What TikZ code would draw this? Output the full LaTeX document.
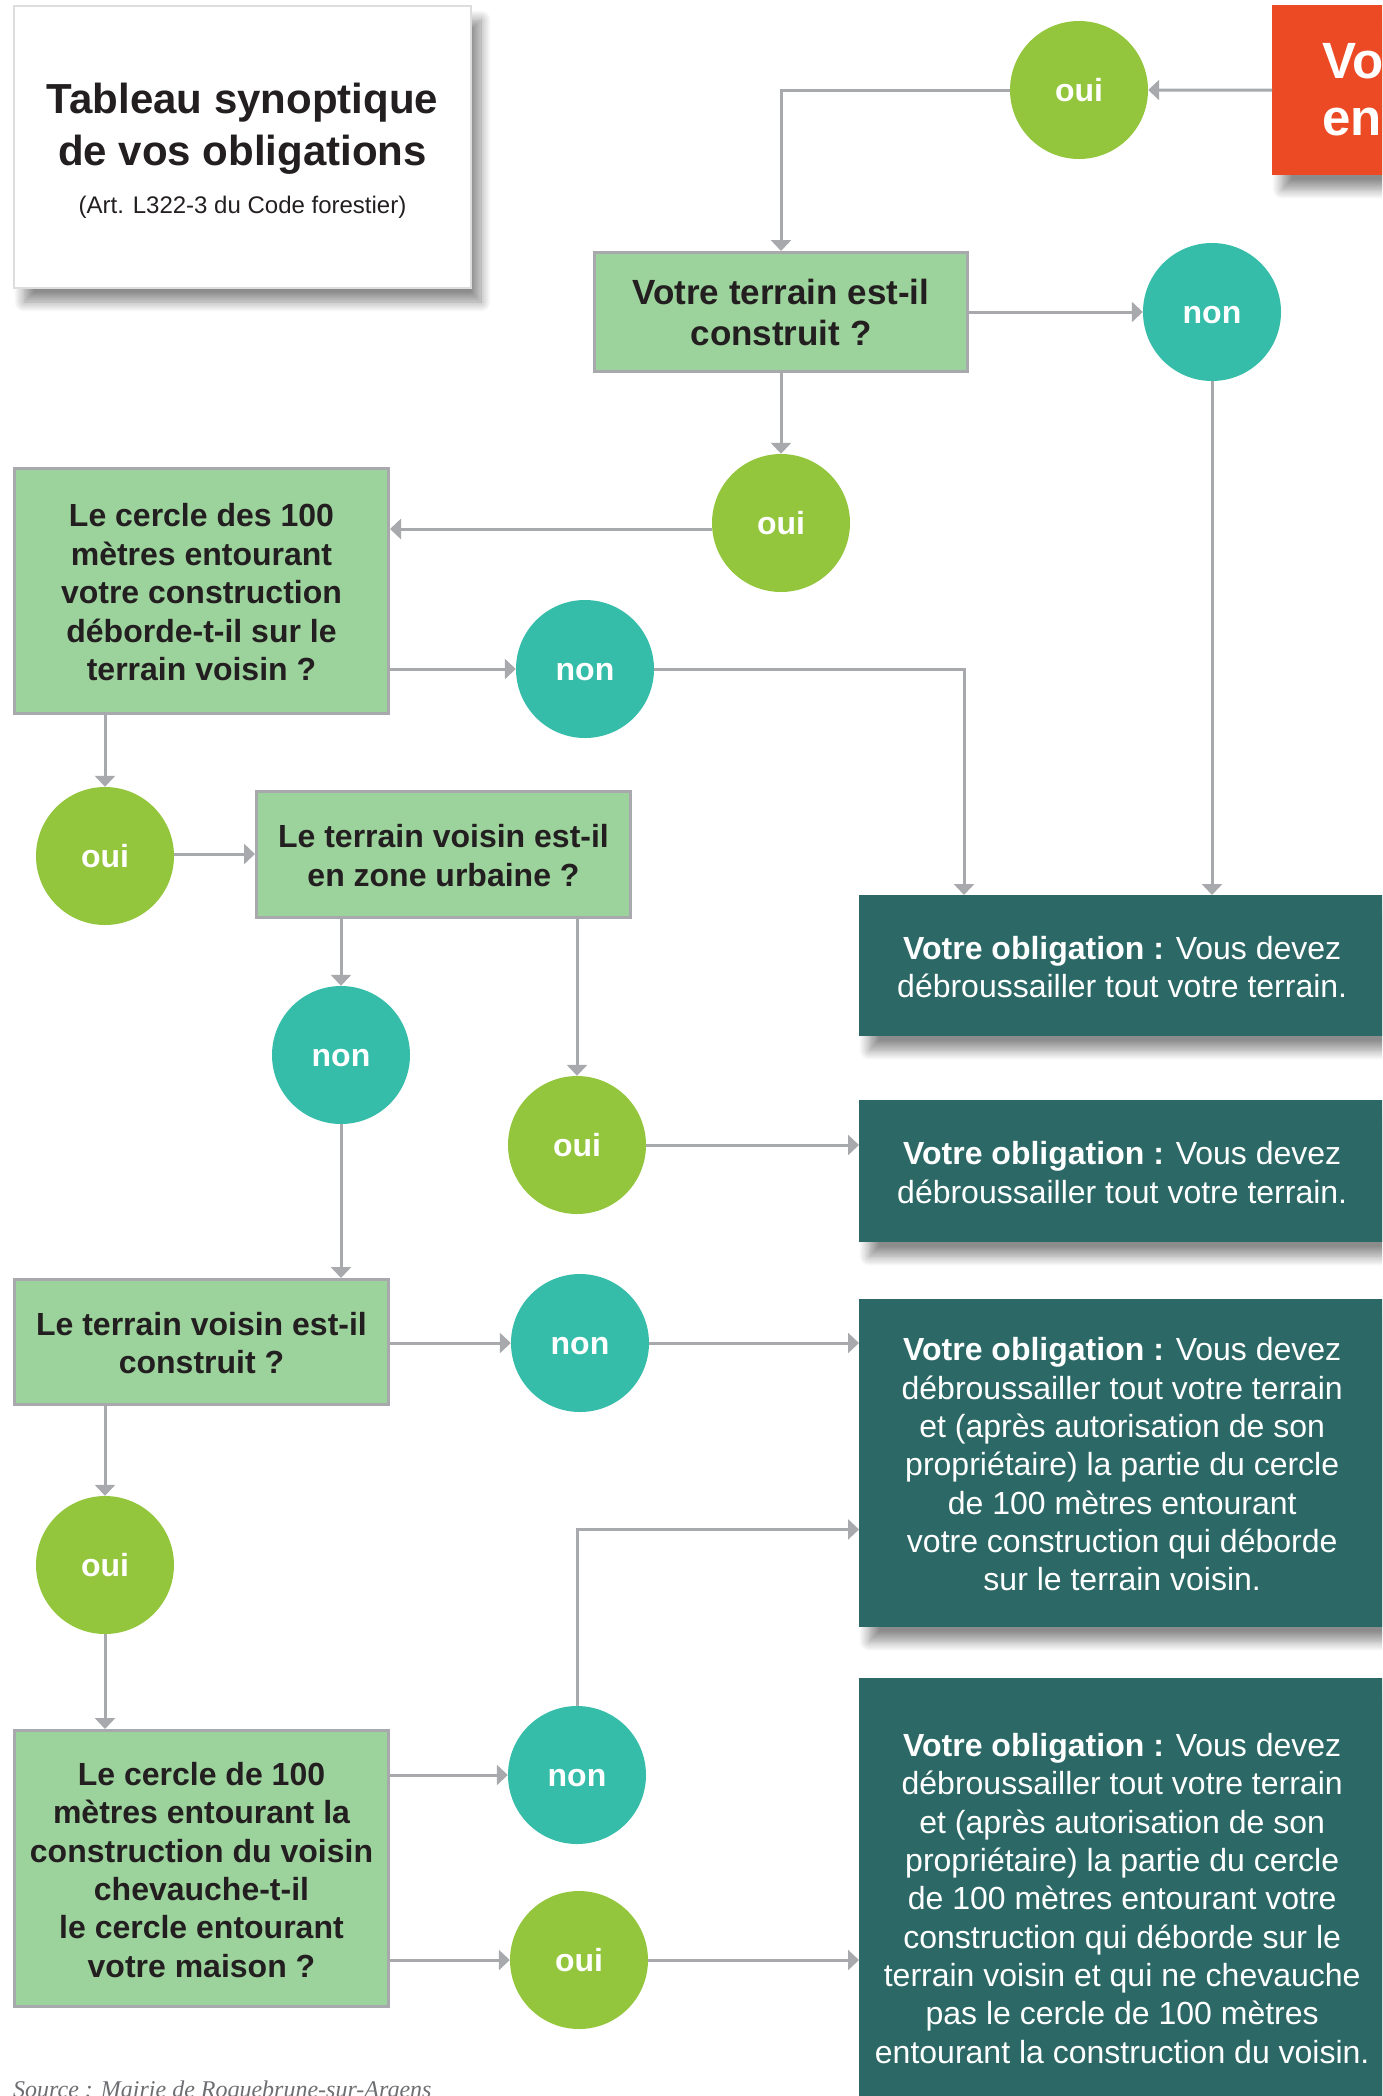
\documentclass[tikz,border=0pt]{standalone}
\usepackage{fontspec}
\setmainfont{Liberation Sans}
\newfontfamily\srcfont{Liberation Serif}
\usetikzlibrary{arrows.meta,shadows.blur}
\definecolor{ouig}{HTML}{93C63D}
\definecolor{nont}{HTML}{35BDA9}
\definecolor{qfill}{HTML}{9CD29B}
\definecolor{lgray}{HTML}{A7A9AC}
\definecolor{oblc}{HTML}{2C6966}
\definecolor{orng}{HTML}{EC4A24}
\definecolor{qtxt}{HTML}{231F20}
\definecolor{tborder}{HTML}{DCDDDE}
\definecolor{srcg}{HTML}{6D6E71}
\newcommand\lowerit[1]{\raisebox{-5pt}[\height][\depth]{#1}}
\begin{document}
\begin{tikzpicture}[x=1pt,y=-1pt,
  softshadow/.style={blur shadow={shadow xshift=10pt, shadow yshift=-14pt, shadow blur radius=10pt, shadow blur steps=12, shadow opacity=45}},
  qbox/.style={draw=lgray, line width=3pt, fill=qfill, inner sep=0pt, text=qtxt, font=\bfseries\fontsize{32}{38.4}\selectfont, minimum width=374pt},
  ouinode/.style={circle, fill=ouig, minimum size=138pt, inner sep=0pt, text=white, font=\bfseries\fontsize{32}{38}\selectfont, text height=23pt, text depth=0pt},
  nonnode/.style={ouinode, fill=nont},
  oblbox/.style={fill=oblc, text=white, inner sep=0pt, anchor=north west, minimum width=560pt, font=\fontsize{32}{38.3}\selectfont, softshadow},
  conn/.style={draw=lgray, line width=3pt},
  arr/.style={conn, -{Triangle[width=20pt,length=11pt]}},
]
\useasboundingbox (0,0) rectangle (1382,2096);
\clip (0,0) rectangle (1382,2096);

% title
\node[draw=tborder, line width=2pt, fill=white, minimum width=457pt, minimum height=282pt, inner sep=0pt, softshadow] (title) at (242.5,147) {};
\node[anchor=base, font=\bfseries\fontsize{42}{52}\selectfont, text=qtxt] (t1) at (242.5,113) {Tableau synoptique};
\node[anchor=base, font=\bfseries\fontsize{42}{52}\selectfont, text=qtxt] (t2) at (242.5,165) {de vos obligations};
\node[anchor=base, font=\fontsize{24}{28}\selectfont, text=qtxt] (t3) at (242.5,213) {(Art. L322-3 du Code forestier)};

% orange box
\node[fill=orng, text=white, anchor=north west, minimum height=170pt, text width=150pt, align=left, inner xsep=50pt, inner ysep=0pt, font=\bfseries\fontsize{51}{57}\selectfont, softshadow] (orange) at (1272,5) {Vot\\en};

% question boxes
\node[qbox, font=\bfseries\fontsize{35}{41}\selectfont, minimum width=373pt, minimum height=119pt] (q1) at (781,312) {\lowerit{\begin{tabular}{@{}c@{}}Votre terrain est-il\\construit ?\end{tabular}}};
\node[qbox, minimum height=245pt] (q2) at (201.5,591) {\lowerit{\begin{tabular}{@{}c@{}}Le cercle des 100\\mètres entourant\\votre construction\\déborde-t-il sur le\\terrain voisin ?\end{tabular}}};
\node[qbox, minimum height=126pt] (q3) at (443.5,854.5) {\lowerit{\begin{tabular}{@{}c@{}}Le terrain voisin est-il\\en zone urbaine ?\end{tabular}}};
\node[qbox, minimum height=125pt] (q4) at (201.5,1342) {\lowerit{\begin{tabular}{@{}c@{}}Le terrain voisin est-il\\construit ?\end{tabular}}};
\node[qbox, minimum height=276pt] (q5) at (201.5,1868.5) {\lowerit{\begin{tabular}{@{}c@{}}Le cercle de 100\\mètres entourant la\\construction du voisin\\chevauche-t-il\\le cercle entourant\\votre maison ?\end{tabular}}};

% circles
\node[ouinode] (oui1) at (1079,90) {oui};
\node[nonnode] (non1) at (1212,312) {non};
\node[ouinode] (oui2) at (781,523) {oui};
\node[nonnode] (non2) at (585,669) {non};
\node[ouinode] (oui3) at (105,856) {oui};
\node[nonnode] (non3) at (341,1055) {non};
\node[ouinode] (oui4) at (577,1145) {oui};
\node[nonnode] (non4) at (580,1343) {non};
\node[ouinode] (oui5) at (105,1565) {oui};
\node[nonnode] (non5) at (577,1775) {non};
\node[ouinode] (oui6) at (579,1960) {oui};

% obligation boxes
\node[oblbox, minimum height=141pt] (ob1) at (859,895) {\lowerit{\begin{tabular}{@{}c@{}}\textbf{Votre obligation :} Vous devez\\débroussailler tout votre terrain.\end{tabular}}\hspace*{34pt}};
\node[oblbox, minimum height=142pt] (ob2) at (859,1100) {\lowerit{\begin{tabular}{@{}c@{}}\textbf{Votre obligation :} Vous devez\\débroussailler tout votre terrain.\end{tabular}}\hspace*{34pt}};
\node[oblbox, minimum height=328pt] (ob3) at (859,1299) {\lowerit{\begin{tabular}{@{}c@{}}\textbf{Votre obligation :} Vous devez\\débroussailler tout votre terrain\\et (après autorisation de son\\propriétaire) la partie du cercle\\de 100 mètres entourant\\votre construction qui déborde\\sur le terrain voisin.\end{tabular}}\hspace*{34pt}};
\node[oblbox, minimum height=438pt] (ob4) at (859,1678) {\lowerit{\begin{tabular}{@{}c@{}}\textbf{Votre obligation :} Vous devez\\débroussailler tout votre terrain\\et (après autorisation de son\\propriétaire) la partie du cercle\\de 100 mètres entourant votre\\construction qui déborde sur le\\terrain voisin et qui ne chevauche\\pas le cercle de 100 mètres\\entourant la construction du voisin.\end{tabular}}\hspace*{34pt}};

% source
\node[anchor=base west, inner sep=0pt, font=\srcfont\itshape\fontsize{24}{28}\selectfont, text=srcg] (src) at (13,2097) {Source : Mairie de Roquebrune-sur-Argens};

% connectors
\draw[arr] (orange.west) -- (oui1.east);
\draw[arr] (oui1.west) -| (q1.north);
\draw[arr] (q1.east) -- (non1.west);
\draw[arr] (non1.south) -- (non1.south |- ob1.north);
\draw[arr] (q1.south) -- (oui2.north);
\draw[arr] ([yshift=-6pt]oui2.west) -- ([yshift=-6pt]oui2.west -| q2.east);
\draw[arr] (q2.east |- non2) -- (non2.west);
\draw[arr] (non2.east) -| ([xshift=105pt]ob1.north west);
\draw[arr] (q2.south -| oui3) -- (oui3.north);
\draw[arr] ([yshift=2pt]oui3.east) -- ([yshift=2pt]oui3.east -| q3.west);
\draw[arr] (q3.south -| non3) -- (non3.north);
\draw[arr] (q3.south -| oui4) -- (oui4.north);
\draw[arr] (oui4.east) -- (oui4.east -| ob2.west);
\draw[arr] (non3.south) -- (non3.south |- q4.north);
\draw[arr] (q4.east |- non4) -- (non4.west);
\draw[arr] (non4.east) -- (non4.east -| ob3.west);
\draw[arr] (q4.south -| oui5) -- (oui5.north);
\draw[arr] (oui5.south) -- (oui5.south |- q5.north);
\draw[arr] (q5.east |- non5) -- (non5.west);
\draw[arr] (non5.north) |- ([yshift=98pt]ob3.south west);
\draw[arr] (q5.east |- oui6) -- (oui6.west);
\draw[arr] (oui6.east) -- (oui6.east -| ob4.west);
\end{tikzpicture}
\end{document}
